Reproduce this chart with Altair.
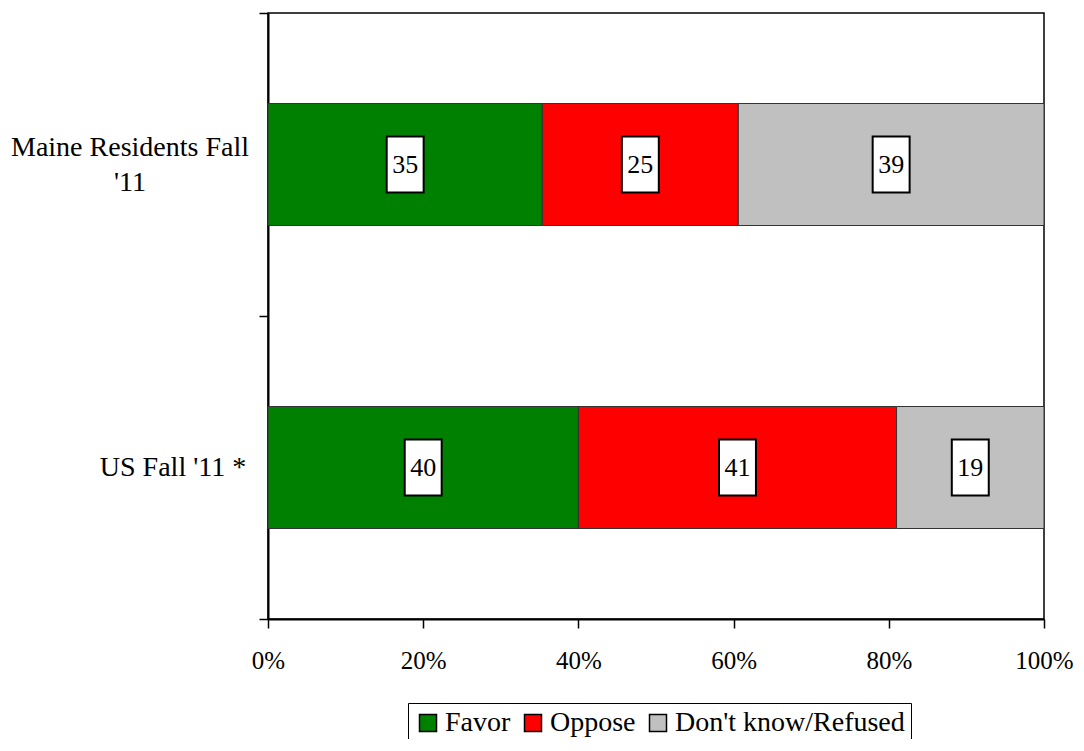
import altair as alt
import pandas as pd

categories = ["Maine Residents Fall '11", "US Fall '11 *"]
responses = ["Favor", "Oppose", "Don't know/Refused"]
favor = [35, 40]
oppose = [25, 41]
dont_know = [39, 19]
colors = ["#008000", "#FF0000", "#C0C0C0"]

rows = []
for i, c in enumerate(categories):
    for j, (r, v) in enumerate(zip(responses, [favor[i], oppose[i], dont_know[i]])):
        rows.append({"category": c, "response": r, "value": v, "order": j})
df = pd.DataFrame(rows)

FONT = "Liberation Serif"

base = alt.Chart(df).transform_stack(
    stack="value",
    groupby=["category"],
    as_=["x0", "x1"],
    offset="normalize",
    sort=[alt.SortField("order", order="ascending")],
).transform_calculate(mid="(datum.x0 + datum.x1) / 2")

yenc = alt.Y(
    "category:N",
    sort=categories,
    title=None,
    scale=alt.Scale(paddingInner=0, paddingOuter=0),
    axis=alt.Axis(
        tickBand="extent",
        tickSize=9,
        tickColor="black",
        tickWidth=1.5,
        domainColor="black",
        domainWidth=2,
        labels=False,
        grid=False,
    ),
)

xaxis = alt.Axis(
    values=[0, 0.2, 0.4, 0.6, 0.8, 1.0],
    format=".0%",
    orient="bottom",
    tickSize=9,
    tickColor="black",
    tickWidth=1.5,
    domainColor="black",
    domainWidth=2,
    labelFont=FONT,
    labelFontSize=25,
    labelColor="black",
    labelPadding=20,
    labelFlush=False,
    labelOverlap=False,
    grid=False,
)
xscale = alt.Scale(domain=[0, 1], nice=False)

bars = base.mark_bar(size=122, stroke="#333333", strokeWidth=1).encode(
    x=alt.X("x0:Q", title=None, scale=xscale, axis=xaxis),
    x2="x1:Q",
    y=yenc,
    color=alt.Color(
        "response:N",
        sort=responses,
        scale=alt.Scale(domain=responses, range=colors),
        legend=alt.Legend(
            title=None,
            orient="none",
            direction="horizontal",
            legendX=140,
            legendY=690,
            strokeColor="black",
            padding=6,
            symbolType="square",
            symbolSize=289,
            symbolStrokeColor="black",
            symbolStrokeWidth=1.5,
            symbolOpacity=1,
            labelFont=FONT,
            labelFontSize=28,
            labelColor="black",
            labelLimit=500,
            labelOffset=3,
            columnPadding=8,
        ),
    ),
)

boxes = base.mark_point(
    shape="M-0.66,-1 L0.66,-1 L0.66,1 L-0.66,1 Z",
    size=3136,
    filled=True,
    fill="white",
    stroke="black",
    strokeWidth=2,
    opacity=1,
).encode(x=alt.X("mid:Q", scale=xscale, axis=xaxis, title=None), y=yenc)

labels = base.mark_text(font=FONT, fontSize=26, color="black", baseline="middle", align="center").encode(
    x=alt.X("mid:Q", scale=xscale, axis=xaxis, title=None), y=yenc, text="value:Q"
)

cat_df = pd.DataFrame({"category": categories})
cat_base = alt.Chart(cat_df).transform_calculate(
    lines="indexof(datum.category, 'Maine') === 0 ? ['Maine Residents Fall', \"'11\"] : datum.category"
)
maine_label = cat_base.transform_filter("indexof(datum.category, 'Maine') === 0").mark_text(
    font=FONT, fontSize=28, color="black", align="center", baseline="middle", lineHeight=35, dy=-17
).encode(x=alt.value(-138), y=yenc, text="lines:N")
us_label = cat_base.transform_filter("indexof(datum.category, 'US') === 0").mark_text(
    font=FONT, fontSize=28, color="black", align="center", baseline="middle"
).encode(x=alt.value(-95), y=yenc, text="lines:N")

chart = (
    alt.layer(bars, boxes, labels, maine_label, us_label)
    .properties(
        width=776,
        height=606,
        autosize=alt.AutoSizeParams(type="none"),
        padding={"left": 260, "top": 5, "right": 32, "bottom": 120},
    )
    .configure(background="white")
    .configure_view(stroke="black", strokeWidth=1.5)
    .configure_legend(labelFont=FONT)
)

chart.save("out.html", embed_options={"renderer": "svg", "actions": False})
